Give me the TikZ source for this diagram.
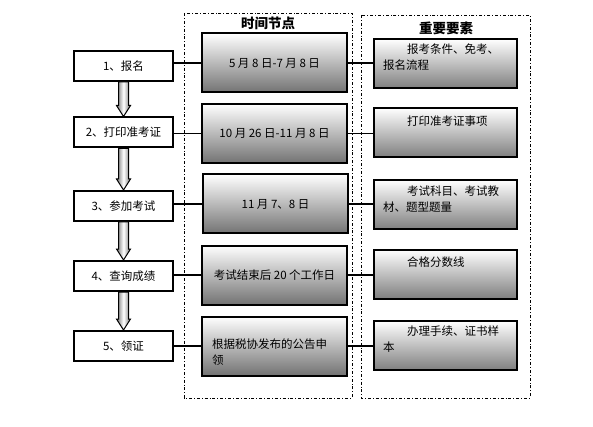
\documentclass[tikz,border=0pt]{standalone}
\usepackage{fontspec}
\setmainfont{Noto Sans CJK SC}
\usetikzlibrary{positioning,calc}

\tikzset{
  stepbox/.style={draw,line width=2pt,fill=white,minimum width=99pt,minimum height=30pt,inner sep=0pt},
  timebox/.style={draw,line width=2pt,top color=white,bottom color=black!55,minimum width=145pt,minimum height=59pt,inner sep=0pt,align=center},
  keybox/.style={draw,line width=2pt,top color=white,bottom color=black!50,minimum width=143pt,minimum height=49pt,inner sep=0pt},
  boxtext/.style={anchor=north west,inner sep=0pt,align=left},
  frame/.style={draw,line width=0.8pt,dash dot},
  heading/.style={font=\fontsize{13.5}{16}\selectfont\bfseries},
  link/.style={line width=1.6pt},
  blockarrow/.style={draw,line width=1pt,left color=black!55,right color=black!55,middle color=white},
}

\begin{document}
\begin{tikzpicture}[x=1pt,y=-1pt,font=\fontsize{11.5}{16}\selectfont]
  \useasboundingbox (0,0) rectangle (593,427);

  % the two dash-dot frames
  \draw[frame] (184,13) rectangle (352,398);
  \draw[frame] (361,15) rectangle (530,398);
  \node[heading] (head1) at (268,23) {时间节点};
  \node[heading] (head2) at (446,28) {重要要素};

  % steps
  \node[stepbox] (l1) at (123.5,66) {1、报名};
  \node[stepbox] (l2) at (123.5,132.5) {2、打印准考证};
  \node[stepbox] (l3) at (123.5,206) {3、参加考试};
  \node[stepbox] (l4) at (123.5,276) {4、查询成绩};
  \node[stepbox] (l5) at (123.5,346) {5、领证};

  % time points
  \node[timebox] (m1) at (274.5,63) {5 月 8 日-7 月 8 日};
  \node[timebox] (m2) at (274.5,133.5) {10 月 26 日-11 月 8 日};
  \node[timebox] (m3) at (275.5,204) {11 月 7、8 日};
  \node[timebox] (m4) at (274.5,275) {考试结束后 20 个工作日};
  \node[timebox] (m5) at (274.5,346) {};
  \node[boxtext] (m5t) at ($(m5.north west)+(11,23)$) {根据税协发布的公告申\\领};

  % key points
  \node[keybox] (r1) at (445.5,63.5) {};
  \node[keybox] (r2) at (445.5,132.5) {};
  \node[keybox] (r3) at (445.5,204.5) {};
  \node[keybox] (r4) at (445.5,274) {};
  \node[keybox] (r5) at (445.5,345.5) {};
  \node[boxtext] (r1t) at ($(r1.north west)+(10,6)$) {\hspace*{24pt}报考条件、免考、\\报名流程};
  \node[boxtext] (r2t) at ($(r2.north west)+(10,9)$) {\hspace*{24pt}打印准考证事项};
  \node[boxtext] (r3t) at ($(r3.north west)+(10,7)$) {\hspace*{24pt}考试科目、考试教\\材、题型题量};
  \node[boxtext] (r4t) at ($(r4.north west)+(10,8)$) {\hspace*{24pt}合格分数线};
  \node[boxtext] (r5t) at ($(r5.north west)+(10,6)$) {\hspace*{24pt}办理手续、证书样\\本};

  % connectors
  \foreach \i in {1,...,5} {
    \draw[link] (m\i.west -| l\i.east) -- (m\i.west);
    \draw[link] (m\i.east) -- (m\i.east -| r\i.west);
  }

  % block arrows between steps
  \foreach \a/\b in {l1/l2,l2/l3,l3/l4,l4/l5} {
    \path[blockarrow] ($(\a.south)+(-5,0)$) -- ($(\a.south)+(5,0)$)
      -- ($(\b.north)+(5,-11)$) -- ($(\b.north)+(7,-11)$) -- (\b.north)
      -- ($(\b.north)+(-7,-11)$) -- ($(\b.north)+(-5,-11)$) -- cycle;
  }
\end{tikzpicture}
\end{document}
